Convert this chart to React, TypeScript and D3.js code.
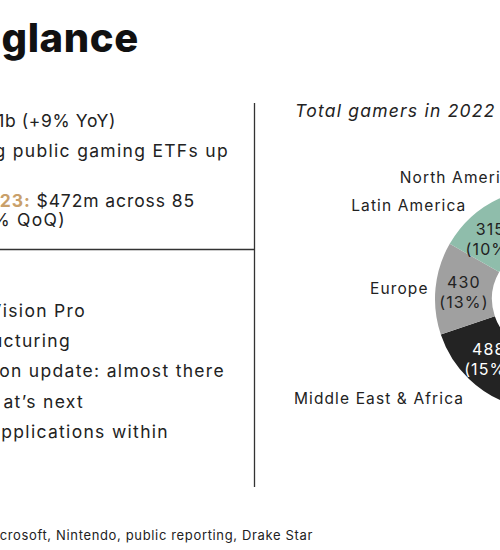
import React from "react";
import * as d3 from "d3";

// Donut data: total gamers in 2022 (millions)
const regions = ["Asia-Pacific", "Middle East & Africa", "Europe", "Latin America", "North America"];
const gamers = [1744, 488, 430, 315, 219];
const shares = ["55%", "15%", "13%", "10%", "7%"];
const sliceColors = ["#5f8f80", "#232323", "#a0a0a0", "#8fbdab", "#cfcfcf"];
const valueTextColors = ["#ffffff", "#ffffff", "#222222", "#222222", "#222222"];

// Left-panel text (cropped by the frame)
const topLines = ["1b (+9% YoY)", "g public gaming ETFs up"];
const dealHighlight = "23:";
const dealRest = " $472m across 85";
const dealLine2 = "% QoQ)";
const bottomLines = ["Vision Pro", "ucturing", "on update: almost there", "at\u2019s next", "pplications within"];
const bottomEnds = [85, 70, 224, 83, 168];
const footnote = "crosoft, Nintendo, public reporting, Drake Star";
const title = "glance";
const chartTitle = "Total gamers in 2022 (millions)";

const FONT = "Inter, 'Open Sans', sans-serif";

export default function App() {
  const W = 500, H = 550;
  const cx = 546, cy = 299, R = 111, r = 54;
  const pie = d3.pie<number>().sort(null).value((d) => d)(gamers);
  const arc = d3.arc<d3.PieArcDatum<number>>().innerRadius(r).outerRadius(R);
  const labelArc = d3.arc<d3.PieArcDatum<number>>().innerRadius(118).outerRadius(118);

  const textSize = 17.5;
  const ls = "0.075em";
  return (
    <svg width={W} height={H} style={{ position: "absolute", left: 0, top: 0, background: "#fff" }} fontFamily={FONT}>
      <text x={1.5} y={52} fontSize={40} fontWeight={850} fill="#111" letterSpacing={0.6}>{title}</text>

      <line x1={254.5} x2={254.5} y1={103} y2={487} stroke="#333" strokeWidth={1.3} />
      <line x1={0} x2={254.5} y1={249.5} y2={249.5} stroke="#333" strokeWidth={1.3} />

      <g fontSize={textSize} fill="#222" textAnchor="end" letterSpacing={ls}>
        <text x={116} y={127} letterSpacing="0.035em">{topLines[0]}</text>
        <text x={229} y={157}>{topLines[1]}</text>
        <text x={195} y={207} letterSpacing="0.052em">
          <tspan fill="#c9a06a" fontWeight={700}>{dealHighlight}</tspan>
          <tspan>{dealRest}</tspan>
        </text>
        <text x={66} y={226}>{dealLine2}</text>
        {bottomLines.map((t, i) => (
          <text key={i} x={bottomEnds[i] + 1} y={317 + i * 30.2}>{t}</text>
        ))}
        <text x={313} y={540} fontSize={13} letterSpacing="0.05em">{footnote}</text>
      </g>

      <text x={295} y={117} fontSize={17.5} fontStyle="italic" fill="#222" letterSpacing="0.07em">{chartTitle}</text>

      <g transform={`translate(${cx},${cy})`} letterSpacing="0.07em">
        {pie.map((p, i) => (
          <path key={i} d={arc(p) || ""} fill={sliceColors[i]} />
        ))}
        {pie.map((p, i) => {
          const [x, y] = arc.centroid(p);
          return (
            <text key={"v" + i} x={x} y={y} textAnchor="middle" fontSize={16} fill={valueTextColors[i]}>
              <tspan x={x} dy="-0.2em">{gamers[i]}</tspan>
              <tspan x={x} dy="1.25em">({shares[i]})</tspan>
            </text>
          );
        })}
        {pie.map((p, i) => {
          const [x, y] = labelArc.centroid(p);
          const mid = (p.startAngle + p.endAngle) / 2;
          const left = Math.sin(mid) < 0;
          const bottom = Math.cos(mid) < -0.3;
          const top = Math.cos(mid) > 0.3;
          return (
            <text key={"l" + i} x={x} y={y} textAnchor={left ? "end" : "start"} fontSize={15.5} fill="#222"
              dy={bottom ? "1.3em" : top ? "-0.05em" : "0.45em"}>
              {regions[i]}
            </text>
          );
        })}
      </g>
    </svg>
  );
}
